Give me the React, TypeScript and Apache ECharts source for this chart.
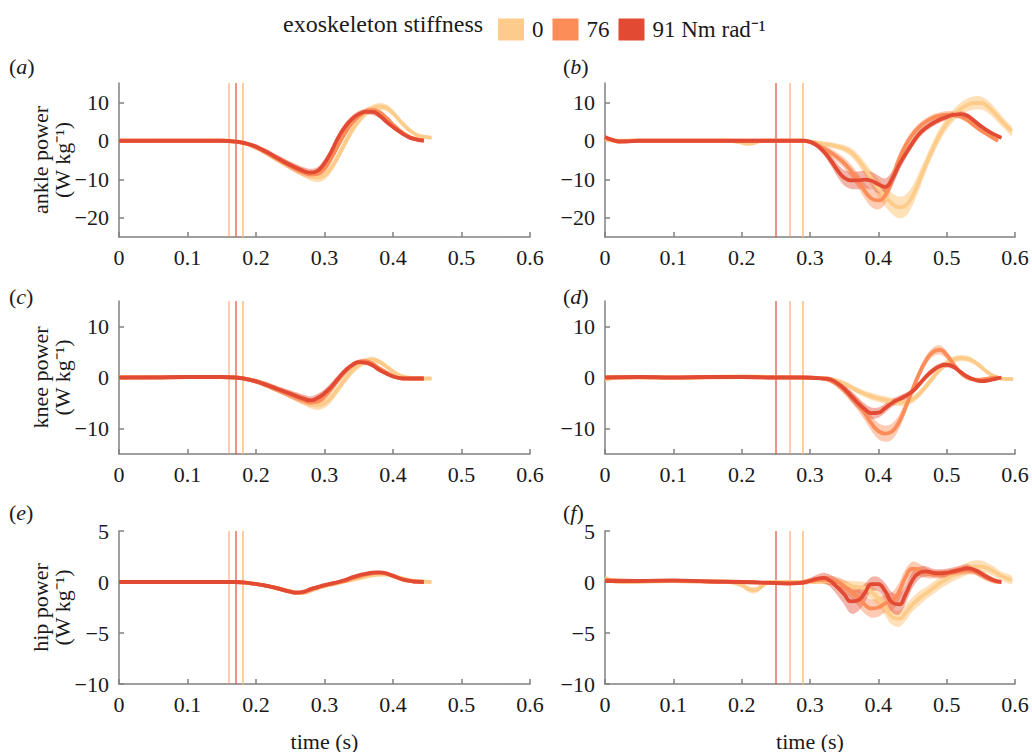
import React, { useEffect, useRef } from 'react';
import * as echarts from 'echarts';

// ---------- data: [time (s), mean, sd] ----------
const LEVELS = ['0', '76', '91 Nm rad⁻¹'];
const X_TICKS_MAX = 0.6;
const Y_TICKS_ANKLE = [-20, -10, 0, 10];
const Y_TICKS_KNEE = [-10, 0, 10];
const Y_TICKS_HIP = [-10, -5, 0, 5];
const ONSET_LEFT = [0.1815, 0.1558, 0.1747];
const ONSET_RIGHT = [0.286, 0.2719, 0.2534];

const ankleL_0 = [[0,0,0.3],[0.05,0,0.3],[0.1,0,0.3],[0.15,0,0.3],[0.17,-0.2,0.3],[0.19,-1,0.5],[0.21,-2.6,0.7],[0.23,-4.6,0.9],[0.25,-6.6,1.0],[0.27,-8.4,1.1],[0.28,-9.2,1.2],[0.29,-9.6,1.2],[0.30,-9,1.2],[0.31,-7,1.2],[0.32,-4,1.2],[0.33,-0.6,1.2],[0.34,2.6,1.1],[0.35,5.2,1.0],[0.36,7.2,1.0],[0.37,8.4,0.9],[0.38,8.9,0.9],[0.39,8.6,0.9],[0.40,7.2,0.8],[0.41,5.2,0.7],[0.42,3.4,0.6],[0.43,2,0.5],[0.44,1.2,0.4],[0.456,0.8,0.4]];
const ankleL_76 = [[0,0,0.3],[0.05,0,0.3],[0.1,0,0.3],[0.15,0,0.3],[0.17,-0.2,0.3],[0.19,-1,0.5],[0.21,-2.6,0.7],[0.23,-4.6,0.8],[0.25,-6.6,0.9],[0.27,-8.3,1.0],[0.28,-8.8,1.0],[0.29,-8.6,1.0],[0.30,-7.2,1.0],[0.31,-4.5,1.0],[0.32,-1.2,1.0],[0.33,2,1.0],[0.34,4.6,0.9],[0.35,6.4,0.9],[0.36,7.6,0.8],[0.37,8,0.8],[0.38,7.4,0.7],[0.39,6,0.6],[0.40,4.2,0.5],[0.41,2.6,0.5],[0.42,1.4,0.4],[0.43,0.6,0.3],[0.445,0.1,0.3]];
const ankleL_91 = [[0,0,0.3],[0.05,0,0.3],[0.1,0,0.3],[0.15,0,0.3],[0.17,-0.2,0.3],[0.19,-0.9,0.5],[0.21,-2.4,0.7],[0.23,-4.4,0.8],[0.25,-6.3,0.9],[0.27,-7.9,1.0],[0.28,-8.3,1.0],[0.29,-7.8,1.0],[0.30,-5.8,1.0],[0.31,-2.8,1.0],[0.32,0.8,1.0],[0.33,3.6,1.0],[0.34,5.6,0.9],[0.35,6.9,0.8],[0.36,7.5,0.8],[0.37,7.5,0.8],[0.38,6.6,0.7],[0.39,5,0.6],[0.40,3.6,0.5],[0.41,2.3,0.4],[0.42,1.2,0.4],[0.43,0.5,0.3],[0.445,0,0.3]];

const ankleR_0 = [[0,0.3,0.3],[0.02,0,0.3],[0.1,0,0.3],[0.18,0,0.3],[0.2,-0.5,0.4],[0.21,-0.8,0.4],[0.22,-0.5,0.4],[0.23,0,0.3],[0.29,0,0.3],[0.30,-0.2,0.4],[0.31,-0.5,0.5],[0.32,-0.8,0.6],[0.33,-1.1,0.7],[0.34,-1.5,0.8],[0.35,-2,0.9],[0.36,-3,1.1],[0.37,-4.8,1.4],[0.38,-7.2,1.7],[0.39,-9.8,2.0],[0.40,-12.3,2.3],[0.41,-14.5,2.5],[0.42,-16.3,2.7],[0.43,-17.3,2.8],[0.44,-16.8,2.8],[0.45,-14.3,2.6],[0.46,-10.3,2.3],[0.47,-6,2.0],[0.48,-2,1.8],[0.49,1.6,1.7],[0.50,4.4,1.6],[0.51,6.6,1.6],[0.52,8.2,1.6],[0.53,9.3,1.7],[0.54,9.8,1.7],[0.55,9.8,1.7],[0.56,8.9,1.6],[0.57,7.2,1.5],[0.58,5.2,1.4],[0.59,3.4,1.3],[0.595,2.5,1.3]];
const ankleR_76 = [[0,0.8,0.3],[0.01,0.2,0.3],[0.02,-0.2,0.3],[0.04,0,0.3],[0.1,0,0.3],[0.2,0,0.3],[0.29,0,0.3],[0.30,-0.3,0.4],[0.31,-1,0.6],[0.32,-2,0.8],[0.33,-3,1.0],[0.34,-4.3,1.2],[0.35,-5.8,1.4],[0.36,-7.8,1.6],[0.37,-10.3,1.8],[0.38,-13,2.0],[0.39,-15,2.2],[0.40,-15.5,2.3],[0.41,-14.2,2.2],[0.42,-10,2.0],[0.43,-5,1.6],[0.44,-1.2,1.3],[0.45,1.6,1.1],[0.46,3.6,1.0],[0.47,5,0.9],[0.48,6,0.9],[0.49,6.5,0.9],[0.50,6.8,0.9],[0.51,6.8,0.8],[0.52,6.4,0.8],[0.53,5.4,0.7],[0.54,4,0.7],[0.55,2.7,0.6],[0.56,1.6,0.5],[0.57,0.5,0.4],[0.575,0,0.4]];
const ankleR_91 = [[0,1,0.3],[0.01,0.3,0.3],[0.02,-0.2,0.3],[0.03,-0.2,0.3],[0.05,0,0.3],[0.1,0,0.3],[0.2,0,0.3],[0.25,0,0.3],[0.29,0,0.3],[0.30,-0.3,0.4],[0.31,-1.2,0.6],[0.32,-2.8,0.9],[0.33,-5,1.3],[0.34,-7.6,1.7],[0.35,-9.6,2.0],[0.36,-10.3,2.2],[0.37,-10.3,2.3],[0.38,-10.1,2.3],[0.39,-10.4,2.3],[0.40,-11.3,2.3],[0.41,-12,2.2],[0.42,-10,2.0],[0.43,-6.4,1.6],[0.44,-3.4,1.3],[0.45,-0.6,1.1],[0.46,1.8,1.0],[0.47,3.4,0.9],[0.48,4.6,0.9],[0.49,5.5,0.8],[0.50,6.2,0.8],[0.51,6.7,0.8],[0.52,6.9,0.8],[0.53,6.5,0.7],[0.54,5.2,0.7],[0.55,3.8,0.6],[0.56,2.6,0.5],[0.57,1.6,0.5],[0.58,0.8,0.4]];

const kneeL_0 = [[0,0,0.2],[0.1,0.1,0.2],[0.15,0.1,0.2],[0.17,0,0.3],[0.19,-0.4,0.4],[0.21,-1.2,0.5],[0.23,-2.3,0.6],[0.25,-3.4,0.7],[0.27,-4.6,0.8],[0.28,-5.2,0.9],[0.29,-5.5,0.9],[0.30,-5.1,0.9],[0.31,-3.9,0.9],[0.32,-2.2,0.8],[0.33,-0.4,0.8],[0.34,1.2,0.7],[0.35,2.4,0.7],[0.36,3.2,0.6],[0.37,3.5,0.6],[0.38,3.1,0.5],[0.39,2.2,0.5],[0.40,1.2,0.4],[0.41,0.4,0.4],[0.42,0,0.3],[0.44,-0.2,0.3],[0.456,-0.2,0.3]];
const kneeL_76 = [[0,0,0.2],[0.1,0.1,0.2],[0.15,0.1,0.2],[0.17,0,0.3],[0.19,-0.4,0.4],[0.21,-1.2,0.5],[0.23,-2.3,0.6],[0.25,-3.4,0.7],[0.27,-4.5,0.8],[0.28,-4.9,0.8],[0.29,-4.7,0.8],[0.30,-3.7,0.8],[0.31,-2.2,0.8],[0.32,-0.5,0.7],[0.33,1.1,0.6],[0.34,2.3,0.6],[0.35,3,0.5],[0.36,3.2,0.5],[0.37,2.7,0.5],[0.38,1.8,0.4],[0.39,1,0.4],[0.40,0.3,0.3],[0.41,-0.1,0.3],[0.42,-0.2,0.3],[0.445,-0.2,0.3]];
const kneeL_91 = [[0,0,0.2],[0.05,0,0.2],[0.1,0.1,0.2],[0.15,0.1,0.2],[0.17,0,0.3],[0.19,-0.4,0.4],[0.21,-1.2,0.5],[0.23,-2.2,0.6],[0.25,-3.2,0.7],[0.27,-4.2,0.8],[0.28,-4.5,0.8],[0.29,-4.0,0.8],[0.30,-3.1,0.8],[0.31,-1.8,0.8],[0.32,-0.2,0.7],[0.33,1.3,0.6],[0.34,2.4,0.5],[0.35,3,0.5],[0.36,2.9,0.5],[0.37,2.4,0.4],[0.38,1.5,0.4],[0.39,0.8,0.3],[0.40,0.2,0.3],[0.41,-0.1,0.3],[0.42,-0.2,0.3],[0.445,-0.2,0.3]];

const kneeR_0 = [[0,-0.5,0.3],[0.02,0,0.2],[0.1,0,0.2],[0.2,0.2,0.2],[0.25,0.1,0.2],[0.29,0,0.3],[0.31,-0.1,0.3],[0.33,-0.3,0.4],[0.35,-1.2,0.5],[0.37,-2.6,0.6],[0.39,-3.7,0.7],[0.41,-4.4,0.7],[0.43,-4.9,0.7],[0.44,-4.8,0.7],[0.45,-4.3,0.7],[0.46,-3.2,0.7],[0.47,-1.7,0.7],[0.48,0,0.7],[0.49,1.6,0.7],[0.50,2.8,0.7],[0.51,3.5,0.6],[0.52,3.8,0.6],[0.53,3.7,0.6],[0.54,3.1,0.5],[0.55,2.1,0.5],[0.56,1,0.4],[0.57,0.2,0.3],[0.58,-0.2,0.3],[0.597,-0.3,0.3]];
const kneeR_76 = [[0,0,0.3],[0.05,0.1,0.2],[0.1,0,0.2],[0.2,0.1,0.2],[0.25,0,0.2],[0.29,0,0.3],[0.31,-0.1,0.3],[0.32,-0.2,0.4],[0.33,-0.6,0.5],[0.34,-1.4,0.6],[0.35,-2.5,0.8],[0.36,-3.8,1.0],[0.37,-5.2,1.2],[0.38,-7,1.4],[0.39,-9,1.5],[0.40,-10.5,1.6],[0.41,-11,1.6],[0.42,-10.6,1.6],[0.43,-8.8,1.4],[0.44,-5.8,1.2],[0.45,-2.4,1.0],[0.46,0.8,0.9],[0.47,3.4,0.9],[0.48,5,0.9],[0.49,5.4,0.9],[0.50,4.4,0.8],[0.51,2.6,0.6],[0.52,1,0.5],[0.53,0,0.4],[0.54,-0.4,0.3],[0.55,-0.4,0.3],[0.56,-0.2,0.3],[0.575,0,0.3]];
const kneeR_91 = [[0,0,0.3],[0.05,0.1,0.2],[0.1,0,0.2],[0.15,0.1,0.2],[0.2,0.1,0.2],[0.25,0,0.2],[0.29,0,0.3],[0.31,-0.1,0.3],[0.32,-0.2,0.4],[0.33,-0.4,0.5],[0.34,-1.1,0.6],[0.35,-2.2,0.8],[0.36,-3.6,1.0],[0.37,-5,1.1],[0.38,-6.2,1.1],[0.39,-7,1.1],[0.40,-6.9,1.0],[0.41,-6,0.9],[0.42,-5,0.8],[0.43,-4.3,0.7],[0.44,-3.6,0.6],[0.45,-2.7,0.6],[0.46,-1.3,0.6],[0.47,0.2,0.6],[0.48,1.4,0.6],[0.49,2.2,0.6],[0.50,2.5,0.6],[0.51,2.1,0.5],[0.52,1.1,0.4],[0.53,0.2,0.3],[0.54,-0.4,0.3],[0.55,-0.7,0.3],[0.56,-0.6,0.3],[0.57,-0.3,0.3],[0.58,0,0.3]];

const hipL_0 = [[0,0,0.1],[0.1,0,0.1],[0.17,0,0.1],[0.19,-0.1,0.15],[0.21,-0.3,0.15],[0.23,-0.6,0.2],[0.25,-0.9,0.2],[0.26,-1.05,0.2],[0.27,-1.05,0.2],[0.28,-0.85,0.2],[0.29,-0.6,0.2],[0.30,-0.4,0.15],[0.31,-0.25,0.15],[0.32,-0.1,0.15],[0.33,0.05,0.15],[0.34,0.2,0.15],[0.35,0.35,0.15],[0.36,0.5,0.15],[0.37,0.65,0.15],[0.38,0.72,0.15],[0.39,0.72,0.15],[0.40,0.6,0.15],[0.41,0.42,0.15],[0.42,0.25,0.1],[0.43,0.12,0.1],[0.44,0.05,0.1],[0.456,0,0.1]];
const hipL_76 = [[0,0,0.1],[0.1,0,0.1],[0.17,0,0.1],[0.19,-0.1,0.15],[0.21,-0.3,0.15],[0.23,-0.6,0.2],[0.25,-0.95,0.2],[0.26,-1.05,0.2],[0.27,-1.0,0.2],[0.28,-0.75,0.2],[0.29,-0.55,0.2],[0.30,-0.35,0.15],[0.31,-0.2,0.15],[0.32,-0.05,0.15],[0.33,0.1,0.15],[0.34,0.35,0.15],[0.35,0.55,0.15],[0.36,0.72,0.15],[0.37,0.85,0.15],[0.38,0.9,0.15],[0.39,0.82,0.15],[0.40,0.6,0.15],[0.41,0.35,0.15],[0.42,0.15,0.1],[0.43,0.05,0.1],[0.445,0,0.1]];
const hipL_91 = [[0,0,0.1],[0.1,0,0.1],[0.17,0,0.1],[0.19,-0.1,0.15],[0.21,-0.3,0.15],[0.23,-0.6,0.2],[0.25,-0.95,0.2],[0.26,-1.05,0.2],[0.27,-0.95,0.2],[0.28,-0.7,0.2],[0.29,-0.5,0.2],[0.30,-0.3,0.15],[0.31,-0.15,0.15],[0.32,0,0.15],[0.33,0.2,0.15],[0.34,0.45,0.15],[0.35,0.65,0.15],[0.36,0.8,0.15],[0.37,0.92,0.15],[0.38,0.95,0.15],[0.39,0.85,0.15],[0.40,0.6,0.15],[0.41,0.35,0.15],[0.42,0.15,0.1],[0.43,0.05,0.1],[0.445,0,0.1]];

const hipR_0 = [[0,0.4,0.2],[0.02,0,0.15],[0.1,0.1,0.15],[0.18,0,0.15],[0.2,-0.3,0.25],[0.21,-0.7,0.3],[0.22,-0.8,0.3],[0.23,-0.4,0.25],[0.24,0,0.15],[0.3,0,0.2],[0.32,0.1,0.3],[0.34,-0.1,0.4],[0.36,-0.4,0.5],[0.38,-0.6,0.6],[0.39,-1.0,0.7],[0.40,-1.6,0.7],[0.41,-2.5,0.8],[0.42,-3.4,0.8],[0.43,-3.6,0.8],[0.44,-3.0,0.8],[0.45,-2.2,0.7],[0.46,-1.6,0.7],[0.47,-1.1,0.6],[0.48,-0.6,0.6],[0.49,-0.1,0.6],[0.50,0.3,0.6],[0.51,0.7,0.6],[0.52,1.0,0.6],[0.53,1.3,0.6],[0.54,1.5,0.6],[0.55,1.5,0.6],[0.56,1.35,0.5],[0.57,1.0,0.5],[0.58,0.6,0.4],[0.595,0.2,0.4]];
const hipR_76 = [[0,0.2,0.15],[0.05,0.1,0.15],[0.1,0.1,0.15],[0.2,0,0.15],[0.25,-0.1,0.15],[0.28,-0.1,0.2],[0.30,0.1,0.3],[0.32,0.2,0.4],[0.34,0,0.5],[0.35,-0.4,0.6],[0.36,-0.9,0.7],[0.37,-1.5,0.8],[0.38,-2.2,0.9],[0.39,-2.6,0.9],[0.40,-2.5,0.9],[0.41,-2.1,0.9],[0.42,-1.9,0.9],[0.43,-1.0,0.9],[0.44,0.5,0.8],[0.45,1.3,0.7],[0.46,1.2,0.6],[0.47,0.9,0.5],[0.48,0.75,0.4],[0.49,0.75,0.4],[0.50,0.8,0.4],[0.51,0.9,0.4],[0.52,1.05,0.4],[0.53,1.15,0.4],[0.54,1.0,0.3],[0.55,0.7,0.3],[0.56,0.35,0.3],[0.575,0,0.2]];
const hipR_91 = [[0,0.1,0.15],[0.05,0.1,0.15],[0.1,0.15,0.15],[0.15,0.05,0.15],[0.2,0,0.15],[0.25,-0.1,0.15],[0.27,-0.15,0.15],[0.29,-0.05,0.2],[0.30,0.1,0.3],[0.31,0.3,0.4],[0.32,0.4,0.5],[0.33,0.1,0.6],[0.34,-0.5,0.8],[0.35,-1.2,1.0],[0.36,-1.9,1.2],[0.37,-1.8,1.1],[0.38,-1.1,0.9],[0.39,-0.2,0.7],[0.40,-0.2,0.7],[0.41,-0.9,0.8],[0.42,-2,1.0],[0.43,-2.2,1.0],[0.44,-1.2,0.9],[0.45,0.2,0.8],[0.46,0.9,0.6],[0.47,1.05,0.5],[0.48,0.9,0.4],[0.49,0.85,0.4],[0.50,0.9,0.4],[0.51,1.05,0.4],[0.52,1.2,0.4],[0.53,1.35,0.4],[0.54,1.2,0.3],[0.55,0.85,0.3],[0.56,0.45,0.3],[0.57,0.15,0.2],[0.58,0,0.2]];

// ---------- styling ----------
const FONT = '"Liberation Serif", "Times New Roman", serif';
const TEXT = '#1a1a1a';
const AXIS = '#808080';
const COLORS = ['#fdcc8a', '#fc8d59', '#e34a33'];
const BAND = ['rgba(253,204,138,0.6)', 'rgba(252,141,89,0.45)', 'rgba(227,74,51,0.42)'];
const ONSET_COLOR = ['rgba(253,190,120,0.75)', 'rgba(252,141,89,0.45)', 'rgba(227,74,51,0.6)'];
const GRID_LEFT = [119, 605];
const GRID_WIDTH = [411, 410];
const GRID_TOP = [83, 301, 531];
const GRID_HEIGHT = [154, 153, 153];
const TAG_Y = [66, 296, 512];

const PANELS = [
  { lines: [ankleL_0, ankleL_76, ankleL_91], range: [-25, 15], ticks: Y_TICKS_ANKLE, onsets: ONSET_LEFT, row: 0, col: 0, tag: 'a' },
  { lines: [ankleR_0, ankleR_76, ankleR_91], range: [-25, 15], ticks: Y_TICKS_ANKLE, onsets: ONSET_RIGHT, row: 0, col: 1, tag: 'b' },
  { lines: [kneeL_0, kneeL_76, kneeL_91], range: [-15, 15], ticks: Y_TICKS_KNEE, onsets: ONSET_LEFT, row: 1, col: 0, tag: 'c' },
  { lines: [kneeR_0, kneeR_76, kneeR_91], range: [-15, 15], ticks: Y_TICKS_KNEE, onsets: ONSET_RIGHT, row: 1, col: 1, tag: 'd' },
  { lines: [hipL_0, hipL_76, hipL_91], range: [-10, 5], ticks: Y_TICKS_HIP, onsets: ONSET_LEFT, row: 2, col: 0, tag: 'e' },
  { lines: [hipR_0, hipR_76, hipR_91], range: [-10, 5], ticks: Y_TICKS_HIP, onsets: ONSET_RIGHT, row: 2, col: 1, tag: 'f' },
];
const ROW_NAMES = ['ankle power', 'knee power', 'hip power'];

const fmtY = (v: number) => (v < 0 ? '\u2212' + Math.abs(v) : String(v));
const fmtX = (v: number) => (Math.abs(v) < 1e-9 ? '0' : v.toFixed(1));

function buildOption() {
  const grid: any[] = [];
  const xAxis: any[] = [];
  const yAxis: any[] = [];
  const series: any[] = [];
  const graphic: any[] = [];

  PANELS.forEach((p, i) => {
    grid.push({ left: GRID_LEFT[p.col], width: GRID_WIDTH[p.col], top: GRID_TOP[p.row], height: GRID_HEIGHT[p.row] });
    xAxis.push({
      type: 'value', gridIndex: i, min: 0, max: X_TICKS_MAX, interval: 0.1,
      axisLine: { show: true, onZero: false, lineStyle: { color: AXIS, width: 1.5 } },
      axisTick: { show: true, inside: true, length: 5, lineStyle: { color: AXIS, width: 1.5 } },
      axisLabel: { margin: 9, fontFamily: FONT, fontSize: 22, color: TEXT, formatter: fmtX },
      splitLine: { show: false },
    });
    yAxis.push({
      type: 'value', gridIndex: i, min: p.range[0], max: p.range[1],
      axisLine: { show: true, onZero: false, lineStyle: { color: AXIS, width: 1.5 } },
      axisTick: { show: true, inside: true, length: 5, customValues: p.ticks, lineStyle: { color: AXIS, width: 1.5 } },
      axisLabel: { margin: 10, customValues: p.ticks, fontFamily: FONT, fontSize: 22, color: TEXT, formatter: fmtY },
      splitLine: { show: false },
    });

    p.lines.forEach((d, k) => {
      // shaded band (mean ± sd), drawn through the axes' coordinate system
      series.push({
        type: 'custom', xAxisIndex: i, yAxisIndex: i, silent: true, clip: true,
        data: d.map((r) => [r[0], r[1] - r[2], r[1] + r[2]]),
        encode: { x: 0, y: [1, 2] },
        renderItem: (params: any, api: any) => {
          if (params.dataIndexInside !== 0) return null;
          const upper = d.map((r) => api.coord([r[0], r[1] + r[2]]));
          const lower = d.map((r) => api.coord([r[0], r[1] - r[2]])).reverse();
          return {
            type: 'polygon',
            shape: { points: upper.concat(lower), smooth: 0.35 },
            style: { fill: BAND[k], stroke: null },
          };
        },
      });
      const mean: any = {
        name: LEVELS[k], type: 'line', xAxisIndex: i, yAxisIndex: i, smooth: true, symbol: 'none',
        data: d.map((r) => [r[0], r[1]]),
        lineStyle: { color: COLORS[k], width: 3.8 }, itemStyle: { color: COLORS[k] },
      };
      if (k === 0) {
        mean.markLine = {
          z: 1, silent: true, symbol: 'none', label: { show: false },
          data: p.onsets.map((t, j) => ({ xAxis: t, lineStyle: { color: ONSET_COLOR[j], width: 2, type: 'solid' } })),
        };
      }
      series.push(mean);
    });

    graphic.push({
      type: 'text', x: p.col === 0 ? 9 : 563, y: TAG_Y[p.row],
      style: {
        text: '{n|(}{i|' + p.tag + '}{n|)}', verticalAlign: 'middle',
        rich: {
          n: { fontFamily: FONT, fontSize: 22, fill: TEXT, color: TEXT },
          i: { fontFamily: FONT, fontSize: 22, fontStyle: 'italic', fill: TEXT, color: TEXT },
        },
      },
    });
  });

  ROW_NAMES.forEach((nm, r) => {
    graphic.push({
      type: 'text', x: 51, y: GRID_TOP[r] + GRID_HEIGHT[r] / 2, rotation: Math.PI / 2,
      style: { text: nm + '\n(W kg\u207B\u00B9)', align: 'center', verticalAlign: 'middle', font: '22px ' + FONT, lineHeight: 22, fill: TEXT },
    });
  });
  [0, 1].forEach((c) => {
    graphic.push({
      type: 'text', x: GRID_LEFT[c] + GRID_WIDTH[c] / 2, y: 741,
      style: { text: 'time (s)', align: 'center', verticalAlign: 'middle', font: '22px ' + FONT, fill: TEXT },
    });
  });
  graphic.push({
    type: 'text', x: 283, y: 24,
    style: { text: 'exoskeleton stiffness', align: 'left', verticalAlign: 'middle', font: '24px ' + FONT, fill: TEXT },
  });

  return {
    animation: false,
    backgroundColor: '#ffffff',
    legend: {
      data: LEVELS, left: 493, top: 13, icon: 'rect', itemWidth: 26, itemHeight: 22, itemGap: 9,
      selectedMode: false, textStyle: { fontFamily: FONT, fontSize: 23, color: TEXT, padding: [0, 0, 0, 3] },
    },
    grid, xAxis, yAxis, series, graphic,
  };
}

export default function App() {
  const ref = useRef<HTMLDivElement>(null);
  useEffect(() => {
    if (!ref.current) return;
    const chart = echarts.init(ref.current, undefined, { renderer: 'svg' });
    chart.setOption(buildOption() as any);
    return () => chart.dispose();
  }, []);
  return <div ref={ref} style={{ position: 'fixed', left: 0, top: 0, width: 1032, height: 752, background: '#fff' }} />;
}
